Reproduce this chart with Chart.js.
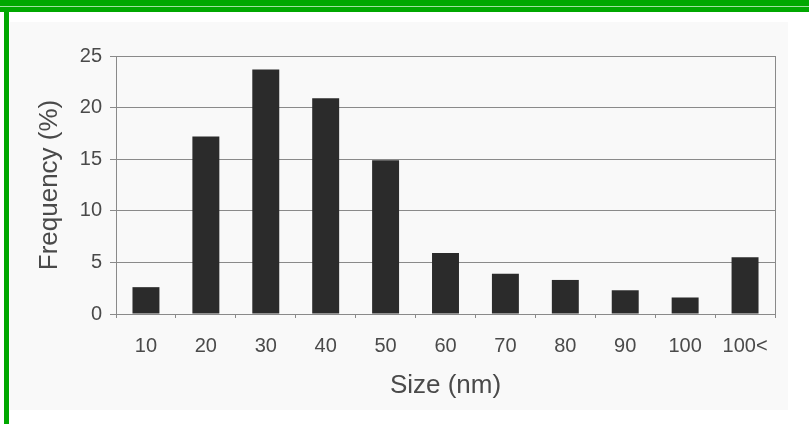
<!DOCTYPE html>
<html>
<head>
<meta charset="utf-8">
<script src="https://cdn.jsdelivr.net/npm/chart.js@4"></script>
<style>
  html, body { margin: 0; padding: 0; background: #fff; }
  #wrap { position: relative; width: 809px; height: 424px; overflow: hidden; }
  #paper { position: absolute; left: 10px; top: 22px; width: 778px; height: 388px; background: #f9f9f9; }
  #woChart { position: absolute; left: 0; top: 0; }
  .bar-top { position: absolute; left: 0; top: 0; width: 809px; height: 12px; background: #00a800; }
  .bar-top-line { position: absolute; left: 0; top: 6px; width: 809px; height: 1px; background: #9fe09f; }
  .bar-left { position: absolute; left: 4px; top: 7px; width: 5px; height: 417px; background: #00a800; }
</style>
</head>
<body>
<div id="wrap">
  <div id="paper"></div>
  <canvas id="woChart" width="809" height="424"></canvas>
  <div class="bar-top"></div>
  <div class="bar-top-line"></div>
  <div class="bar-left"></div>
</div>
<script>
/********************** DATA ************************/
const sizeLabels = ['10', '20', '30', '40', '50', '60', '70', '80', '90', '100', '100<'];
const frequency = [2.6, 17.2, 23.7, 20.9, 14.9, 5.9, 3.9, 3.3, 2.3, 1.6, 5.5];
const yTicks = [0, 5, 10, 15, 20, 25];

/********************** STYLE ***********************/
const FONT = 'Liberation Sans, Arial, sans-serif';
const TEXT_COLOR = '#4a4a4a';
const LINE_COLOR = '#8a8a8a';

/********************** CHART ***********************/
function loadSizeChart() {
  const ctx = document.getElementById('woChart');

  new Chart(ctx, {
    type: 'bar',
    data: {
      labels: sizeLabels,
      datasets: [{
        data: frequency,
        backgroundColor: '#2b2b2b',
        borderWidth: 0,
        barPercentage: 0.45,
        categoryPercentage: 1
      }]
    },
    options: {
      responsive: false,
      animation: false,
      layout: { padding: { top: 56, left: 0, right: 0, bottom: 0 } },
      plugins: {
        legend: { display: false },
        tooltip: { enabled: false }
      },
      scales: {
        x: {
          grid: { drawOnChartArea: false, tickLength: 4, color: LINE_COLOR, offset: true },
          border: { color: LINE_COLOR },
          ticks: { color: TEXT_COLOR, padding: 16, font: { family: FONT, size: 20 } },
          title: {
            display: true,
            text: 'Size (nm)',
            color: TEXT_COLOR,
            padding: { top: 0, bottom: 23 },
            font: { family: FONT, size: 26 }
          },
          afterFit: scale => { scale.height = 110; }
        },
        y: {
          min: 0,
          max: 25,
          afterBuildTicks: scale => { scale.ticks = yTicks.map(v => ({ value: v })); },
          grid: { color: LINE_COLOR, tickLength: 6 },
          border: { color: LINE_COLOR },
          ticks: { color: TEXT_COLOR, padding: 8, font: { family: FONT, size: 20 } },
          title: {
            display: true,
            text: 'Frequency (%)',
            color: TEXT_COLOR,
            padding: { top: 34, bottom: 0 },
            font: { family: FONT, size: 26 }
          },
          afterFit: scale => { scale.width = 116; }
        },
        y2: {
          position: 'right',
          min: 0,
          max: 25,
          grid: { drawOnChartArea: false, drawTicks: false },
          border: { color: LINE_COLOR },
          ticks: { display: false },
          afterFit: scale => { scale.width = 34; }
        }
      }
    }
  });
}

document.addEventListener('DOMContentLoaded', loadSizeChart);
</script>
</body>
</html>
